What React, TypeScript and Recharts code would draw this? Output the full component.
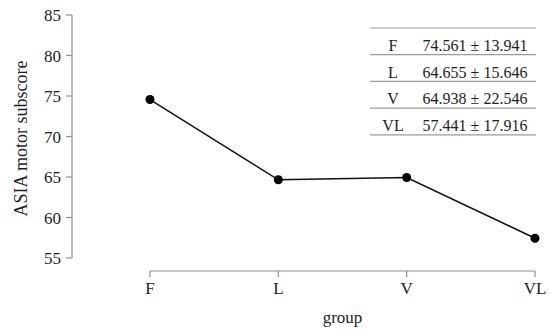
import { Label, Line, LineChart, XAxis, YAxis } from "recharts";

const groups = ["F", "L", "V", "VL"];
const means = [74.561, 64.655, 64.938, 57.441];
const sds = [13.941, 15.646, 22.546, 17.916];
const yTicks = [55, 60, 65, 70, 75, 80, 85];

const rows = groups.map((g, i) => ({ group: g, score: means[i] }));

const W = 550;
const H = 334;
const Y_AXIS_W = 72;
const PAD_L = 78;
const PAD_R = 15;
const STEP = (W - Y_AXIS_W - PAD_L - PAD_R) / (groups.length - 1);

const FONT = "'Liberation Serif', 'Times New Roman', serif";
const AXIS = "#8f8f8f";
const INK = "#1e1e1e";

function GroupTick(props: any) {
  const { x, y, index, payload } = props;
  const last = index === groups.length - 1;
  const ay = y + 13;
  return (
    <g>
      <line
        x1={index > 0 ? x - STEP / 2 : x}
        x2={last ? x : x + STEP / 2}
        y1={ay}
        y2={ay}
        stroke={AXIS}
        strokeWidth={1.2}
      />
      <line x1={x} x2={x} y1={ay} y2={ay + 6} stroke={AXIS} strokeWidth={1.2} />
      <text x={x} y={y + 36} textAnchor="middle" fill={INK} fontSize={17} fontFamily={FONT}>
        {payload.value}
      </text>
      {index === 0 ? (
        <text x={x + (STEP * (groups.length - 1)) / 2} y={y + 65} textAnchor="middle" fill={INK} fontSize={17} fontFamily={FONT}>
          group
        </text>
      ) : null}
    </g>
  );
}

function StatsTable() {
  const left = 370;
  const width = 166;
  const top = 28;
  const rowH = 26.7;
  return (
    <svg width={W} height={H} style={{ position: "absolute", left: 0, top: 0, pointerEvents: "none" }}>
      {[0, 1, 2, 3, 4].map((i) => (
        <line key={i} x1={left} x2={left + width} y1={top + i * rowH} y2={top + i * rowH} stroke="#9a9a9a" strokeWidth={1.2} />
      ))}
      {groups.map((g, i) => (
        <g key={g} fontFamily={FONT} fontSize={16} fill={INK}>
          <text x={393} y={top + i * rowH + 23} textAnchor="middle">
            {g}
          </text>
          <text x={475} y={top + i * rowH + 23} textAnchor="middle">
            {`${means[i].toFixed(3)} ± ${sds[i].toFixed(3)}`}
          </text>
        </g>
      ))}
    </svg>
  );
}

export default function App() {
  return (
    <div style={{ position: "absolute", left: 0, top: 0, width: W, height: H, background: "#fff" }}>
      <LineChart width={W} height={H} data={rows} margin={{ top: 15, right: 0, bottom: 0, left: 0 }}>
        <XAxis
          dataKey="group"
          height={76}
          padding={{ left: PAD_L, right: PAD_R }}
          axisLine={false}
          tickLine={false}
          tickSize={0}
          tickMargin={0}
          tick={<GroupTick />}
          interval={0}
        />
        <YAxis
          width={Y_AXIS_W}
          domain={[55, 85]}
          ticks={yTicks}
          stroke={AXIS}
          strokeWidth={1.2}
          tickSize={6}
          tickMargin={5}
          tick={{ fill: INK, fontSize: 17, fontFamily: FONT }}
          interval={0}
        >
          <Label
            content={(p: any) => {
              const vb = p.viewBox;
              const cy = vb.y + vb.height / 2 + 2;
              return (
                <text
                  x={27}
                  y={cy}
                  transform={`rotate(-90, 27, ${cy})`}
                  textAnchor="middle"
                  fill={INK}
                  fontSize={18}
                  fontFamily={FONT}
                >
                  ASIA motor subscore
                </text>
              );
            }}
          />
        </YAxis>
        <Line
          dataKey="score"
          stroke="#111"
          strokeWidth={1.5}
          dot={{ r: 4.5, fill: "#000", stroke: "#000", strokeWidth: 0 }}
          activeDot={false}
          isAnimationActive={false}
        />
      </LineChart>
      <StatsTable />
    </div>
  );
}
